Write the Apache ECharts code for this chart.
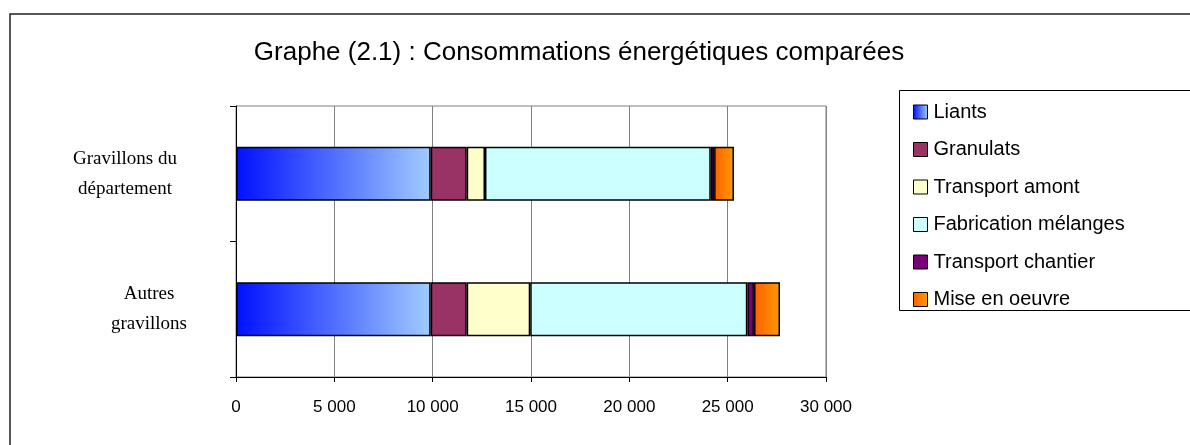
<!DOCTYPE html>
<html><head><meta charset="utf-8">
<script src="https://cdn.jsdelivr.net/npm/echarts@6/dist/echarts.min.js"></script>
<style>html,body{margin:0;padding:0;background:#fff}#c{width:1190px;height:445px}</style>
</head><body><div id="c"></div>
<script>
const categories = ['Gravillons du\ndépartement', 'Autres\ngravillons'];
const seriesNames = ['Liants', 'Granulats', 'Transport amont', 'Fabrication mélanges', 'Transport chantier', 'Mise en oeuvre'];
const liants = [9900, 9900];
const granulats = [1830, 1830];
const transportAmont = [930, 3230];
const fabrication = [11480, 11040];
const transportChantier = [170, 340];
const miseEnOeuvre = [1010, 1320];
const xTicks = [0, 5000, 10000, 15000, 20000, 25000, 30000];

const values = [liants, granulats, transportAmont, fabrication, transportChantier, miseEnOeuvre];
const grad = (a, b) => new echarts.graphic.LinearGradient(0, 0, 1, 0, [{offset: 0, color: a}, {offset: 1, color: b}]);
const colors = [grad('#0010ff', '#a0ccff'), '#993366', '#ffffcc', '#ccffff', '#7a007a', grad('#ff6000', '#ff9a00')];

const chart = echarts.init(document.getElementById('c'), null, {renderer: 'canvas'});
chart.setOption({
  animation: false,
  backgroundColor: '#fff',
  title: {
    text: 'Graphe (2.1) : Consommations énergétiques comparées',
    left: 574, top: 35, textAlign: 'center',
    textStyle: {fontFamily: 'Liberation Sans', fontSize: 26, fontWeight: 'normal', color: '#000'}
  },
  graphic: [
    {type: 'rect', shape: {x: 10, y: 14, width: 1200, height: 460}, style: {fill: 'none', stroke: '#222', lineWidth: 1.5}, silent: true},
    {type: 'rect', shape: {x: 899.5, y: 90.5, width: 300, height: 220}, style: {fill: '#fff', stroke: '#000', lineWidth: 1}, silent: true, z: -1}
  ],
  legend: {
    orient: 'vertical', left: 908, top: 97,
    itemWidth: 14, itemHeight: 14, itemGap: 17.5,
    icon: 'rect',
    data: seriesNames,
    itemStyle: {borderColor: '#000', borderWidth: 1},
    textStyle: {fontFamily: 'Liberation Sans', fontSize: 20, color: '#000', lineHeight: 20, padding: [0, 0, 0, 1]}
  },
  grid: {left: 236, top: 106, right: 364, bottom: 68, show: true, borderColor: '#808080', borderWidth: 1},
  xAxis: {
    type: 'value', min: xTicks[0], max: xTicks[xTicks.length - 1], interval: 5000,
    axisLine: {show: true, lineStyle: {color: '#000', width: 1}},
    axisTick: {show: true, length: 5, lineStyle: {color: '#000'}},
    splitLine: {show: true, lineStyle: {color: '#808080', width: 1}},
    axisLabel: {
      margin: 22, fontFamily: 'Liberation Sans', fontSize: 17, color: '#000',
      formatter: v => String(v).replace(/\B(?=(\d{3})+(?!\d))/g, ' ')
    }
  },
  yAxis: {
    type: 'category', inverse: true,
    data: categories,
    axisLine: {show: true, lineStyle: {color: '#000', width: 1}},
    axisTick: {show: true, length: 6, lineStyle: {color: '#000'}},
    splitLine: {show: false},
    axisLabel: {
      margin: 48, align: 'right', fontFamily: 'Liberation Serif', fontSize: 19, lineHeight: 30, color: '#000',
      formatter: (v, i) => v.split('\n').map(l => (i === 0 ? '{a|' : '{b|') + l + '}').join('\n'),
      rich: {
        a: {width: 126, align: 'center', fontFamily: 'Liberation Serif', fontSize: 19, lineHeight: 30, color: '#000'},
        b: {width: 78, align: 'center', fontFamily: 'Liberation Serif', fontSize: 19, lineHeight: 30, color: '#000'}
      }
    }
  },
  series: seriesNames.map((n, i) => ({
    name: n, type: 'bar', stack: 'total', barWidth: 54,
    data: values[i],
    itemStyle: {color: colors[i], borderColor: '#000', borderWidth: 1.5}
  }))
});
</script></body></html>
